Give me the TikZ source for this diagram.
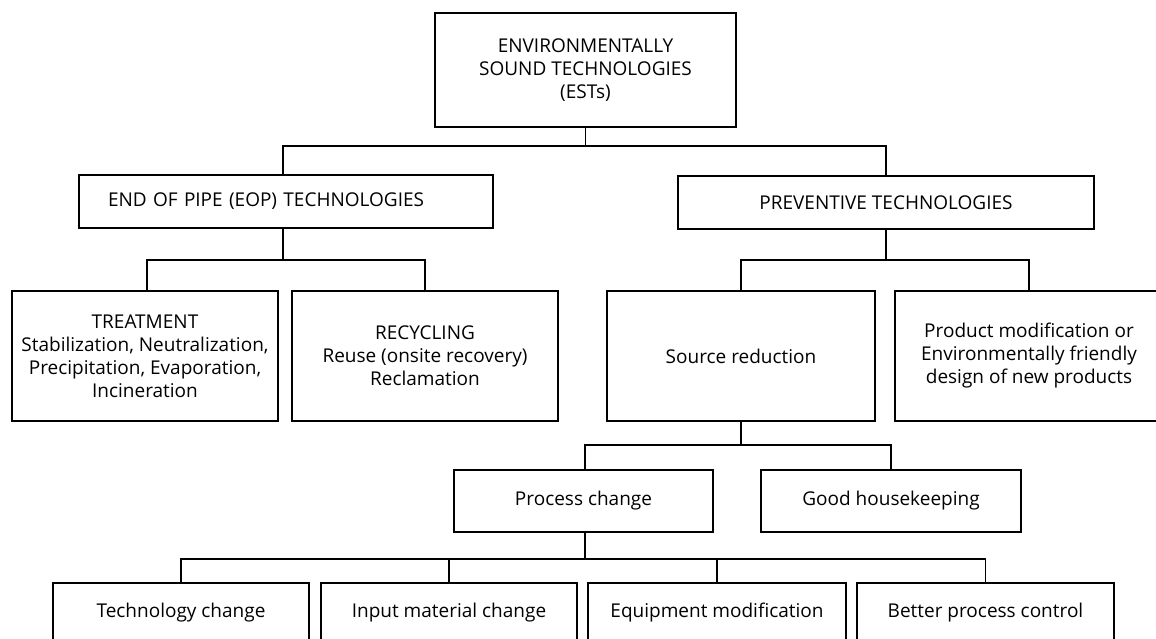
\documentclass[tikz,border=0pt]{standalone}
\usepackage{fontspec}
\setmainfont{Open Sans}
\begin{document}
\begin{tikzpicture}[x=1pt,y=-1pt,
  box/.style={draw, line width=1.7pt, inner sep=0pt, outer sep=0pt, align=center,
    font=\fontsize{19}{23}\selectfont},
  link/.style={line width=1.7pt}]
\clip (0,0) rectangle (1156,639);
\fill[white] (0,0) rectangle (1156,639);

% level 0
\node[box, minimum width=301, minimum height=114] (est) at (585.5,70)
  {ENVIRONMENTALLY\\SOUND TECHNOLOGIES\\(ESTs)};

% level 1
\node[box, minimum height=53, text width=356, inner xsep=29, align=left] (eop) at (286,201.5)
  {END OF PIPE (EOP) TECHNOLOGIES};
\node[box, minimum width=416, minimum height=53] (prev) at (886,202.5)
  {PREVENTIVE TECHNOLOGIES};

% level 2
\node[box, minimum width=266, minimum height=130] (treat) at (145,356)
  {TREATMENT\\Stabilization, Neutralization,\\Precipitation, Evaporation,\\Incineration};
\node[box, minimum width=266, minimum height=130] (recyc) at (425,356)
  {RECYCLING\\Reuse (onsite recovery)\\Reclamation};
\node[box, minimum width=268, minimum height=130] (source) at (741,356)
  {Source reduction};
\node[box, minimum width=268, minimum height=130] (prod) at (1029,356)
  {Product modification or\\Environmentally friendly\\design of new products};

% level 3
\node[box, minimum width=259, minimum height=62] (process) at (583.5,501)
  {Process change};
\node[box, minimum width=260, minimum height=62] (good) at (891,501)
  {Good housekeeping};

% level 4 (boxes run past the lower edge)
\node[box, minimum width=256, minimum height=60] (tech) at (181,613)
  {Technology change};
\node[box, minimum width=256, minimum height=60] (input) at (449,613)
  {Input material change};
\node[box, minimum width=258, minimum height=60] (equip) at (717,613)
  {Equipment modification};
\node[box, minimum width=257, minimum height=60] (better) at (985.5,613)
  {Better process control};

% bus junctions
\coordinate (j0) at (585.5,146);
\coordinate (j1) at (283,260);
\coordinate (j2) at (886,260);
\coordinate (j3) at (741,445);
\coordinate (j4) at (585,559);

% connectors
\draw[link] (est.south) -- (j0);
\draw[link] ([xshift=-3pt]eop.north) |- (j0) -| (prev.north);

\draw[link] ([xshift=-3pt]eop.south) -- (j1);
\draw[link] ([xshift=2pt]treat.north) |- (j1) -| (recyc.north);

\draw[link] (prev.south) -- (j2);
\draw[link] (source.north) |- (j2) -| (prod.north);

\draw[link] (source.south) -- (j3);
\draw[link] ([xshift=1.5pt]process.north) |- (j3) -| (good.north);

\draw[link] ([xshift=1.5pt]process.south) -- (j4);
\draw[link] (tech.north) |- (j4) -| (better.north);
\draw[link] (input.north) -- (input.north |- j4);
\draw[link] (equip.north) -- (equip.north |- j4);
\end{tikzpicture}
\end{document}
